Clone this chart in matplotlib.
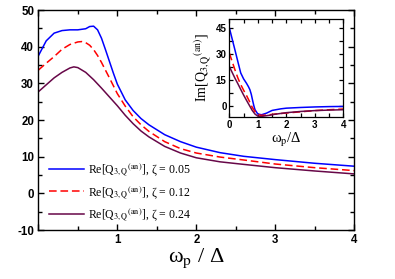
import matplotlib
matplotlib.use('Agg')
import matplotlib.pyplot as plt
from matplotlib.ticker import MultipleLocator

plt.rcParams['font.family'] = ['Liberation Serif', 'DejaVu Serif']
plt.rcParams['mathtext.fontset'] = 'stix'
plt.rcParams['axes.unicode_minus'] = False

# main panel: Re[Q] vs omega_p / Delta
re_x_005 = [0, 0.1, 0.2, 0.3, 0.4, 0.5, 0.6, 0.65, 0.7, 0.75, 0.8, 0.85, 0.9, 0.95,
            1.0, 1.1, 1.2, 1.3, 1.4, 1.6, 1.8, 2.0, 2.3, 2.6, 3.0, 3.5, 4.0]
re_y_005 = [37.5, 41.6, 43.7, 44.4, 44.6, 44.6, 44.9, 45.5, 45.6, 44.6, 42.3, 39.2, 36.0, 32.8,
            29.8, 25.5, 22.6, 20.4, 18.7, 16.0, 14.1, 12.6, 11.1, 10.1, 9.2, 8.2, 7.4]

re_x_012 = [0, 0.1, 0.2, 0.3, 0.4, 0.5, 0.55, 0.6, 0.65, 0.7, 0.75, 0.8, 0.9, 1.0,
            1.1, 1.2, 1.3, 1.4, 1.6, 1.8, 2.0, 2.3, 2.6, 3.0, 3.5, 4.0]
re_y_012 = [33.6, 35.5, 37.3, 39.3, 40.6, 41.3, 41.4, 41.1, 40.4, 39.2, 37.6, 35.7, 31.5, 27.2,
            23.8, 20.9, 18.7, 16.9, 14.1, 12.2, 11.0, 9.9, 9.1, 8.0, 7.0, 6.2]

re_x_024 = [0, 0.1, 0.2, 0.3, 0.4, 0.45, 0.5, 0.6, 0.7, 0.8, 0.9, 1.0, 1.1, 1.2,
            1.3, 1.4, 1.6, 1.8, 2.0, 2.3, 2.6, 3.0, 3.5, 4.0]
re_y_024 = [27.7, 29.6, 31.5, 33.0, 34.2, 34.5, 34.3, 33.0, 31.0, 28.7, 26.3, 23.9, 21.3, 19.0,
            17.0, 15.4, 12.8, 11.0, 9.7, 8.6, 7.9, 7.0, 6.1, 5.3]

# inset: Im[Q]
im_x_005 = [0, 0.1, 0.2, 0.3, 0.4, 0.5, 0.6, 0.67, 0.72, 0.77, 0.82, 0.86, 0.9, 1.0,
            1.13, 1.3, 1.5, 1.8, 2.0, 2.5, 3.0, 3.5, 4.0]
im_y_005 = [45.0, 38.5, 32.0, 25.4, 18.9, 15.5, 13.0, 11.0, 9.3, 6.6, 2.8, 0.0, -2.3, -4.8,
            -5.2, -4.3, -2.7, -1.8, -1.4, -1.0, -0.7, -0.5, -0.4]

im_x_012 = [0, 0.1, 0.2, 0.3, 0.4, 0.5, 0.6, 0.7, 0.8, 0.9, 1.0, 1.1, 1.2, 1.4,
            1.6, 2.0, 2.5, 3.0, 3.5, 4.0]
im_y_012 = [30.4, 25.5, 20.6, 16.0, 12.2, 9.0, 6.0, 2.7, -0.8, -3.3, -5.0, -5.5, -5.5, -5.2,
            -4.8, -4.2, -3.5, -2.8, -2.3, -1.9]

im_x_024 = [0, 0.1, 0.2, 0.3, 0.4, 0.5, 0.6, 0.7, 0.8, 0.9, 1.0, 1.1, 1.2, 1.4,
            1.6, 2.0, 2.5, 3.0, 3.5, 4.0]
im_y_024 = [22.7, 19.2, 15.8, 12.7, 9.4, 6.2, 3.2, 0.3, -2.6, -4.8, -6.0, -6.2, -6.0, -5.5,
            -4.9, -4.0, -3.3, -2.8, -2.5, -2.3]

zetas = ['0.05', '0.12', '0.24']
colors = ['#0000ff', '#ff0000', '#670748']
styles = ['-', (0, (5, 2.5)), '-']

main_xticks = [0, 1, 2, 3, 4]
main_xticklabels = ['', '1', '2', '3', '4']
main_yticks = [-10, 0, 10, 20, 30, 40, 50]
inset_yticks = [0, 15, 30, 45]

tick_font = dict(family='Liberation Sans', weight='bold')
q_label = r'Q$_{\mathrm{3,Q}}$$^{\mathrm{(an)}}$'

fig = plt.figure(figsize=(3.95, 2.79), dpi=100)
ax = fig.add_axes([0.097, 0.1756, 0.8, 0.7884])

re_sets = [(re_x_005, re_y_005), (re_x_012, re_y_012), (re_x_024, re_y_024)]
for (xs, ys), z, c, ls in zip(re_sets, zetas, colors, styles):
    ax.plot(xs, ys, color=c, ls=ls, lw=1.1,
            label='Re[' + q_label + '], ζ = ' + z)

ax.set_xlim(0, 4)
ax.set_ylim(-10, 50)
ax.set_xticks(main_xticks)
ax.set_xticklabels(main_xticklabels)
ax.set_yticks(main_yticks)
ax.xaxis.set_minor_locator(MultipleLocator(0.5))
ax.yaxis.set_minor_locator(MultipleLocator(5))
ax.tick_params(which='both', direction='in', top=True, right=True, width=1.0)
ax.tick_params(which='major', length=4, pad=3)
ax.tick_params(which='minor', length=3)
for lab in ax.get_xticklabels() + ax.get_yticklabels():
    lab.set_fontproperties(tick_font)
    lab.set_fontsize(8.3)
for sp in ax.spines.values():
    sp.set_linewidth(1.0)
ax.set_xlabel('ω$_{\\mathrm{p}}$ / Δ', fontsize=16, labelpad=0)

ax.legend(loc='lower left', bbox_to_anchor=(0.035, 0.03), frameon=False,
          fontsize=8.5, handlelength=2.9, handletextpad=0.4, labelspacing=0.5,
          borderaxespad=0, borderpad=0)

# inset
axi = fig.add_axes([0.5805, 0.5806, 0.2891, 0.3514])
im_sets = [(im_x_005, im_y_005), (im_x_012, im_y_012), (im_x_024, im_y_024)]
for (xs, ys), c, ls in zip(im_sets, colors, styles):
    axi.plot(xs, ys, color=c, ls=ls, lw=1.1)
axi.set_xlim(0, 4)
axi.set_ylim(-6.5, 50)
axi.set_xticks([0, 1, 2, 3, 4])
axi.set_yticks(inset_yticks)
axi.xaxis.set_minor_locator(MultipleLocator(0.5))
axi.yaxis.set_minor_locator(MultipleLocator(7.5))
axi.tick_params(which='both', direction='in', top=True, right=True, width=0.9, length=3, pad=2)
for lab in axi.get_xticklabels() + axi.get_yticklabels():
    lab.set_fontproperties(tick_font)
    lab.set_fontsize(7)
for sp in axi.spines.values():
    sp.set_linewidth(0.9)
axi.set_xlabel('ω$_{\\mathrm{p}}$/Δ', fontsize=10.5, labelpad=1)
axi.set_ylabel('Im[' + q_label + ']', fontsize=10, labelpad=1)

fig.savefig('out.png', dpi=100)
